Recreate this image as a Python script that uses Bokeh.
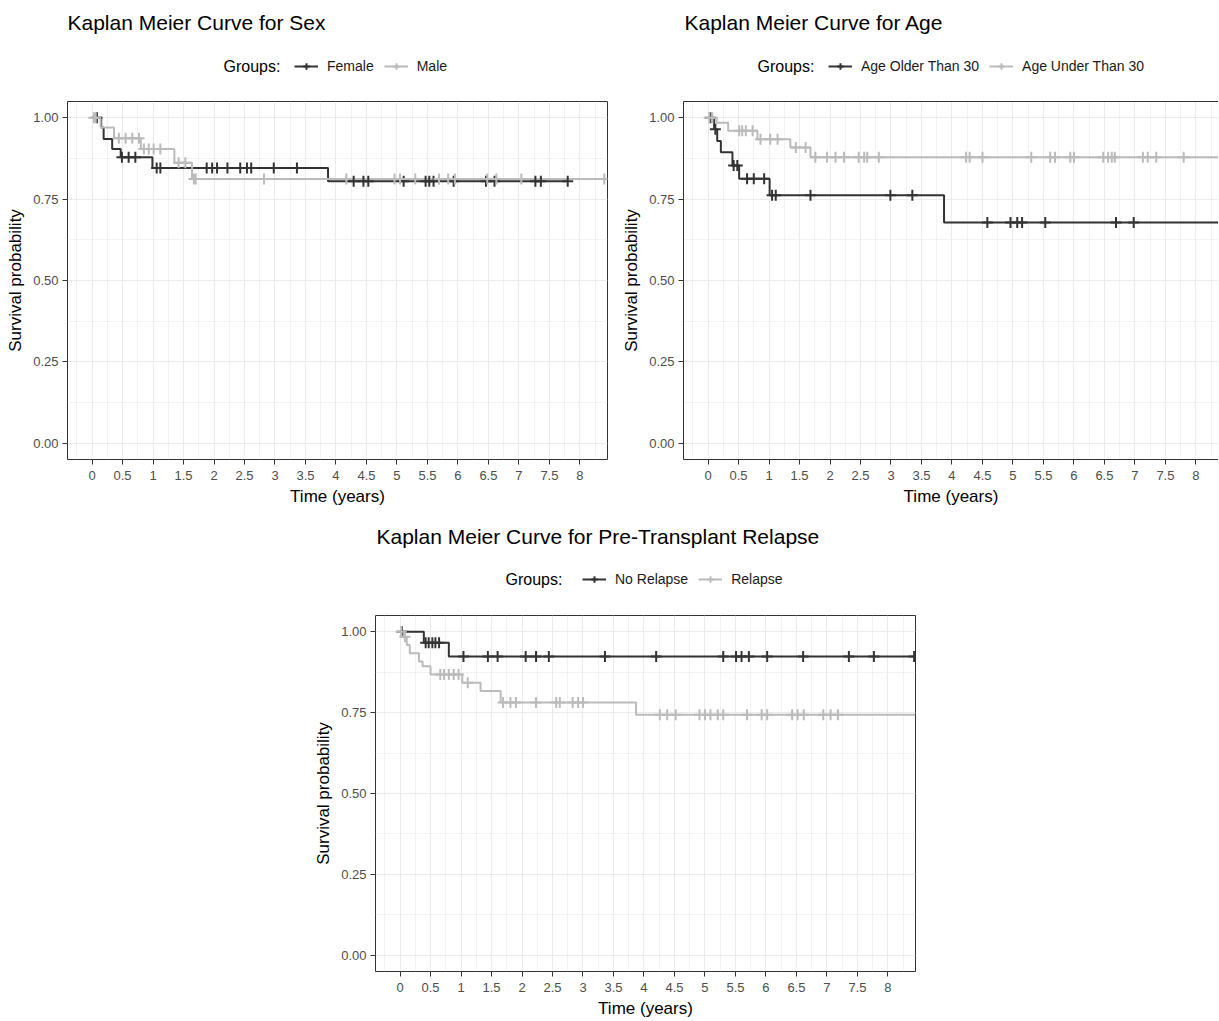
import numpy as np
from bokeh.plotting import figure
from bokeh.models import Range1d, FixedTicker, Label, Legend, LegendItem, Spacer, LinearAxis
from bokeh.layouts import column, row
from bokeh.embed import file_html
from bokeh.resources import INLINE

# ---------------- data ----------------
X_TICKS = [0, 0.5, 1, 1.5, 2, 2.5, 3, 3.5, 4, 4.5, 5, 5.5, 6, 6.5, 7, 7.5, 8]
X_TICK_LABELS = ["0", "0.5", "1", "1.5", "2", "2.5", "3", "3.5", "4", "4.5",
                 "5", "5.5", "6", "6.5", "7", "7.5", "8"]
X_MINOR = [-0.25, 0.25, 0.75, 1.25, 1.75, 2.25, 2.75, 3.25, 3.75, 4.25, 4.75,
           5.25, 5.75, 6.25, 6.75, 7.25, 7.75, 8.25]
Y_TICKS = [0, 0.25, 0.5, 0.75, 1.0]
Y_TICK_LABELS = ["0.00", "0.25", "0.50", "0.75", "1.00"]
Y_MINOR = [0.125, 0.375, 0.625, 0.875]

# Sex
female_times = [0.15, 0.19, 0.33, 0.47, 0.99, 3.87]
female_surv = [0.970, 0.935, 0.904, 0.879, 0.846, 0.805]
female_censor = [0.08, 0.49, 0.60, 0.71, 1.06, 1.12, 1.88, 1.97, 2.05, 2.22, 2.43, 2.54,
                 2.61, 2.98, 3.36, 4.29, 4.45, 4.53, 5.11, 5.47, 5.53, 5.60, 5.93, 6.46,
                 6.60, 7.27, 7.36, 7.80]
female_end = 7.80
male_times = [0.14, 0.36, 0.80, 1.35, 1.64]
male_surv = [0.970, 0.937, 0.904, 0.862, 0.812]
male_censor = [0.03, 0.06, 0.44, 0.55, 0.66, 0.77, 0.85, 0.93, 1.01, 1.12, 1.42, 1.53,
               1.67, 1.70, 2.82, 4.17, 4.96, 5.05, 5.30, 5.69, 5.84, 5.95, 6.48, 6.63,
               7.04, 8.40]
male_end = 8.40

# Age
older_times = [0.10, 0.15, 0.21, 0.40, 0.51, 1.01, 3.87]
older_surv = [0.965, 0.929, 0.894, 0.853, 0.813, 0.762, 0.678]
older_censor = [0.04, 0.12, 0.42, 0.48, 0.64, 0.75, 0.92, 1.05, 1.11, 1.68, 2.99, 3.35,
                4.58, 4.96, 5.07, 5.15, 5.53, 6.69, 6.98]
older_end = 8.45
under_times = [0.14, 0.33, 0.81, 1.35, 1.68]
under_surv = [0.985, 0.960, 0.934, 0.909, 0.879]
under_censor = [0.02, 0.07, 0.51, 0.56, 0.62, 0.73, 0.86, 1.02, 1.14, 1.44, 1.60, 1.76,
                1.95, 2.09, 2.23, 2.47, 2.56, 2.61, 2.80, 4.23, 4.29, 4.50, 5.30, 5.61,
                5.69, 5.94, 6.00, 6.48, 6.56, 6.62, 6.67, 7.13, 7.21, 7.35, 7.80]
under_end = 8.45

# Pre-transplant relapse
norel_times = [0.39, 0.80]
norel_surv = [0.966, 0.923]
norel_censor = [0.03, 0.42, 0.47, 0.53, 0.58, 0.64, 1.04, 1.44, 1.60, 2.06, 2.23, 2.44,
                3.36, 4.20, 5.30, 5.51, 5.60, 5.72, 6.02, 6.61, 7.36, 7.77, 8.43]
norel_end = 8.43
rel_times = [0.05, 0.11, 0.16, 0.31, 0.37, 0.50, 1.02, 1.32, 1.65, 3.87]
rel_surv = [0.984, 0.959, 0.933, 0.908, 0.893, 0.868, 0.842, 0.817, 0.781, 0.743]
rel_censor = [0.02, 0.08, 0.66, 0.72, 0.80, 0.88, 0.96, 1.11, 1.69, 1.81, 1.90, 2.23,
              2.56, 2.62, 2.83, 2.92, 3.00, 4.26, 4.38, 4.52, 4.91, 5.00, 5.09, 5.21,
              5.30, 5.69, 5.93, 6.02, 6.43, 6.52, 6.62, 6.94, 7.06, 7.18]
rel_end = 8.45

# ---------------- styling ----------------
DARK = "#333333"
LIGHT = "#BBBBBB"
FONT = "Liberation Sans"
X_START, X_END = -0.4025, 8.4525
FRAME_W, FRAME_H = 540, 363
PX_PER_X = FRAME_W / (X_END - X_START)


def step_at(times, surv, t):
    v = 1.0
    for ti, si in zip(times, surv):
        if ti <= t:
            v = si
    return v


def make_header(title, names, width, height, title_xy, groups_xy, legend_xy):
    # header strip; its frame is aligned by the column with the plot frame below,
    # so x offsets are screen pixels from the plot frame's left edge
    h = figure(width=width, height=height, output_backend="svg", toolbar_location=None,
               x_range=Range1d(0, width), y_range=Range1d(0, height),
               x_axis_type=None, y_axis_type=None,
               min_border_left=0, min_border_right=0, min_border_top=0, min_border_bottom=0)
    h.outline_line_color = None
    h.xgrid.visible = False
    h.ygrid.visible = False
    h.background_fill_color = "white"
    h.border_fill_color = "white"
    h.add_layout(Label(x=title_xy[0], y=title_xy[1], x_units="screen", y_units="screen",
                       text=title, text_font=FONT,
                       text_font_size="21px", text_color="black",
                       text_baseline="middle", text_align="left"))
    h.add_layout(Label(x=groups_xy[0], y=groups_xy[1], x_units="screen", y_units="screen",
                       text="Groups:", text_font=FONT,
                       text_font_size="16px", text_color="black",
                       text_baseline="middle", text_align="left"))
    items = []
    for name, color in zip(names, (DARK, LIGHT)):
        # legend keys only: placed outside the visible range
        lr = h.line([-50, -40], [-50, -50], line_color=color, line_width=2)
        sr = h.scatter([-45], [-50], marker="cross", size=11, line_color=color, line_width=2)
        items.append(LegendItem(label=name, renderers=[lr, sr]))
    legend = Legend(items=items, location=legend_xy, orientation="horizontal",
                    glyph_width=24, glyph_height=16, label_standoff=9, spacing=10,
                    padding=0, margin=0, border_line_color=None, background_fill_alpha=0,
                    label_text_font=FONT, label_text_font_size="14px",
                    label_text_color="#1A1A1A", label_height=16)
    h.add_layout(legend)
    return h


def make_panel(groups, width, height, mb, frame_w, open_right=False):
    x_end = X_START + frame_w / PX_PER_X
    p = figure(width=width, height=height, output_backend="svg", toolbar_location=None,
               x_range=Range1d(X_START, x_end), y_range=Range1d(-0.05, 1.05),
               min_border_left=mb[0], min_border_right=mb[1],
               min_border_top=mb[2], min_border_bottom=mb[3])
    p.background_fill_color = "white"
    p.border_fill_color = "white"
    if open_right:
        p.outline_line_color = None
    else:
        p.outline_line_color = DARK
        p.outline_line_width = 1

    p.xaxis.ticker = FixedTicker(ticks=X_TICKS, minor_ticks=X_MINOR)
    p.yaxis.ticker = FixedTicker(ticks=Y_TICKS, minor_ticks=Y_MINOR)
    p.xaxis.major_label_overrides = {t: l for t, l in zip(X_TICKS, X_TICK_LABELS)}
    p.yaxis.major_label_overrides = {t: l for t, l in zip(Y_TICKS, Y_TICK_LABELS)}
    p.xaxis.axis_label = "Time (years)"
    p.yaxis.axis_label = "Survival probability"
    for ax in (p.xaxis, p.yaxis):
        ax.axis_line_color = DARK if open_right else None
        ax.major_tick_line_color = DARK
        ax.major_tick_out = 5
        ax.major_tick_in = 0
        ax.minor_tick_line_color = None
        ax.major_label_text_color = "#4D4D4D"
        ax.major_label_text_font = FONT
        ax.major_label_text_font_size = "13px"
        ax.axis_label_text_font = FONT
        ax.axis_label_text_font_size = "17px"
        ax.axis_label_text_font_style = "normal"
        ax.axis_label_text_color = "black"
    p.xaxis.major_label_standoff = 6
    p.yaxis.major_label_standoff = 4
    p.xaxis.axis_label_standoff = 4
    p.yaxis.axis_label_standoff = 5
    if open_right:
        top = LinearAxis(ticker=FixedTicker(ticks=[]), axis_line_color=DARK,
                         major_tick_line_color=None, minor_tick_line_color=None,
                         major_label_text_font_size="0px")
        p.add_layout(top, "above")

    for g in (p.xgrid, p.ygrid):
        g.grid_line_color = "#EBEBEB"
        g.grid_line_width = 1.1
        g.minor_grid_line_color = "#EBEBEB"
        g.minor_grid_line_width = 0.6

    for name, times, surv, cens, end, color in groups:
        xs = [0.0] + list(times) + [end]
        ys = [1.0] + list(surv) + [surv[-1]]
        p.step(xs, ys, mode="after", line_color=color, line_width=2)
    for name, times, surv, cens, end, color in groups:
        cy = [step_at(times, surv, t) for t in cens]
        p.scatter(cens, cy, marker="cross", size=11, line_color=color, line_width=2)
    return p


# top-left panel (figure left at page x 0, frame left at 67)
h1 = make_header("Kaplan Meier Curve for Sex", ["Female", "Male"], 617, 95,
                 title_xy=(0, 73), groups_xy=(156, 29), legend_xy=(227, 21))
p1 = make_panel([("Female", female_times, female_surv, female_censor, female_end, DARK),
                 ("Male", male_times, male_surv, male_censor, male_end, LIGHT)],
                width=617, height=413, mb=(67, 10, 6, 44), frame_w=FRAME_W)

# top-right panel (figure left at page x 617, frame left at 683, cut at the right edge)
h2 = make_header("Kaplan Meier Curve for Age", ["Age Older Than 30", "Age Under Than 30"],
                 601, 95, title_xy=(1, 73), groups_xy=(74, 29), legend_xy=(145, 21))
p2 = make_panel([("Age Older Than 30", older_times, older_surv, older_censor, older_end, DARK),
                 ("Age Under Than 30", under_times, under_surv, under_censor, under_end, LIGHT)],
                width=601, height=413, mb=(66, 0, 6, 44), frame_w=535, open_right=True)

# bottom panel (figure left at page x 308, frame left at 375)
h3 = make_header("Kaplan Meier Curve for Pre-Transplant Relapse", ["No Relapse", "Relapse"],
                 617, 101, title_xy=(1, 73), groups_xy=(130, 30), legend_xy=(207, 22))
p3 = make_panel([("No Relapse", norel_times, norel_surv, norel_censor, norel_end, DARK),
                 ("Relapse", rel_times, rel_surv, rel_censor, rel_end, LIGHT)],
                width=617, height=411, mb=(67, 10, 6, 42), frame_w=FRAME_W)

layout = column(row(column(h1, p1), column(h2, p2)),
                row(Spacer(width=308, height=512), column(h3, p3)))

open("out.html", "w").write(file_html(layout, INLINE))
